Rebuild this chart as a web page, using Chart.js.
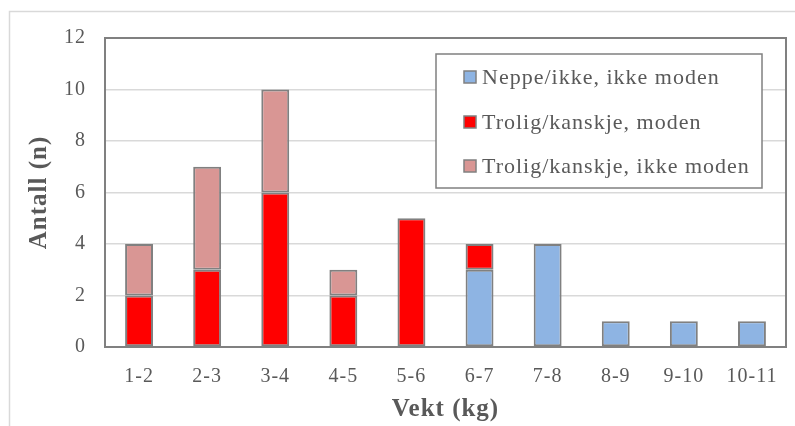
<!DOCTYPE html>
<html><head><meta charset="utf-8">
<script src="https://cdn.jsdelivr.net/npm/chart.js@4.4.1/dist/chart.umd.min.js"></script>
<style>html,body{margin:0;padding:0;background:#fff}#wrap{width:795px;height:426px;position:relative}</style>
</head><body><div id="wrap"><canvas id="c" width="795" height="426"></canvas></div>
<script>
const categories = ['1-2','2-3','3-4','4-5','5-6','6-7','7-8','8-9','9-10','10-11'];
const seriesNames = ['Neppe/ikke, ikke moden','Trolig/kanskje, moden','Trolig/kanskje, ikke moden'];
const neppeIkkeModen = [0,0,0,0,0,3,4,1,1,1];
const troligModen = [2,3,6,2,5,1,0,0,0,0];
const troligIkkeModen = [2,4,4,1,0,0,0,0,0,0];
const seriesColors = ['#8EB4E3','#FF0000','#D99694'];
const yMin = 0, yMax = 12, yStep = 2;
const xTitle = 'Vekt (kg)';
const yTitle = 'Antall (n)';

const TXT = '#595959';
const FONT = 'Liberation Serif';

const seriesData = [neppeIkkeModen, troligModen, troligIkkeModen];
const datasets = seriesData.map((d, i) => ({
  label: seriesNames[i],
  data: d.map(v => v === 0 ? null : v),
  backgroundColor: seriesColors[i],
  borderColor: '#808080',
  borderWidth: 2,
  borderSkipped: false,
  barPercentage: 0.41,
  categoryPercentage: 1.0
}));

const decor = {
  id: 'decor',
  beforeDraw(chart) {
    const ctx = chart.ctx;
    ctx.letterSpacing = '1px';
    ctx.save();
    ctx.strokeStyle = '#D9D9D9';
    ctx.lineWidth = 1.5;
    ctx.beginPath();
    ctx.moveTo(9.5, 426); ctx.lineTo(9.5, 11.5); ctx.lineTo(795, 11.5);
    ctx.stroke();
    ctx.restore();
  },
  beforeDatasetsDraw(chart) {
    const ctx = chart.ctx, a = chart.chartArea;
    ctx.save();
    ctx.strokeStyle = '#808080';
    ctx.lineWidth = 2;
    ctx.strokeRect(a.left, a.top, a.right - a.left, a.bottom - a.top);
    ctx.restore();
  },
  afterDraw(chart) {
    const ctx = chart.ctx;
    ctx.save();
    const bx = 436, by = 54, bw = 326, bh = 134;
    ctx.fillStyle = '#fff';
    ctx.fillRect(bx, by, bw, bh);
    ctx.strokeStyle = '#808080';
    ctx.lineWidth = 1.5;
    ctx.strokeRect(bx, by, bw, bh);
    const rows = [77, 122, 166];
    ctx.font = '22px "' + FONT + '"';
    ctx.letterSpacing = '1px';
    ctx.textBaseline = 'middle';
    ctx.textAlign = 'left';
    chart.data.datasets.forEach((ds, i) => {
      const y = rows[i];
      ctx.fillStyle = ds.backgroundColor;
      ctx.fillRect(464, y - 6, 12, 12);
      ctx.strokeStyle = '#808080';
      ctx.lineWidth = 1.5;
      ctx.strokeRect(464, y - 6, 12, 12);
      ctx.fillStyle = TXT;
      ctx.fillText(ds.label, 482, y + 1);
    });
    ctx.restore();
    ctx.letterSpacing = '0px';
  }
};

new Chart(document.getElementById('c'), {
  type: 'bar',
  data: { labels: categories, datasets },
  options: {
    responsive: false,
    animation: false,
    devicePixelRatio: 1,
    layout: { padding: { top: 38, right: 9, left: 0, bottom: 0 } },
    plugins: { legend: { display: false }, tooltip: { enabled: false } },
    scales: {
      x: {
        stacked: true,
        afterFit(s) { s.height = 79; },
        grid: { display: false, drawTicks: false },
        border: { display: false },
        ticks: { color: TXT, font: { family: FONT, size: 20 }, padding: 18 },
        title: { display: true, text: xTitle, color: TXT, font: { family: FONT, size: 25, weight: 'bold' }, padding: { top: 0, bottom: 1 } }
      },
      y: {
        stacked: true,
        min: yMin, max: yMax,
        afterFit(s) { s.width = 105; },
        grid: { color: '#D9D9D9', lineWidth: 1.5, drawTicks: false },
        border: { display: false },
        ticks: { stepSize: yStep, color: TXT, font: { family: FONT, size: 20 }, padding: 19 },
        title: { display: true, text: yTitle, color: TXT, font: { family: FONT, size: 25, weight: 'bold' }, padding: { top: 25, bottom: 0 } }
      }
    }
  },
  plugins: [decor]
});
</script></body></html>
